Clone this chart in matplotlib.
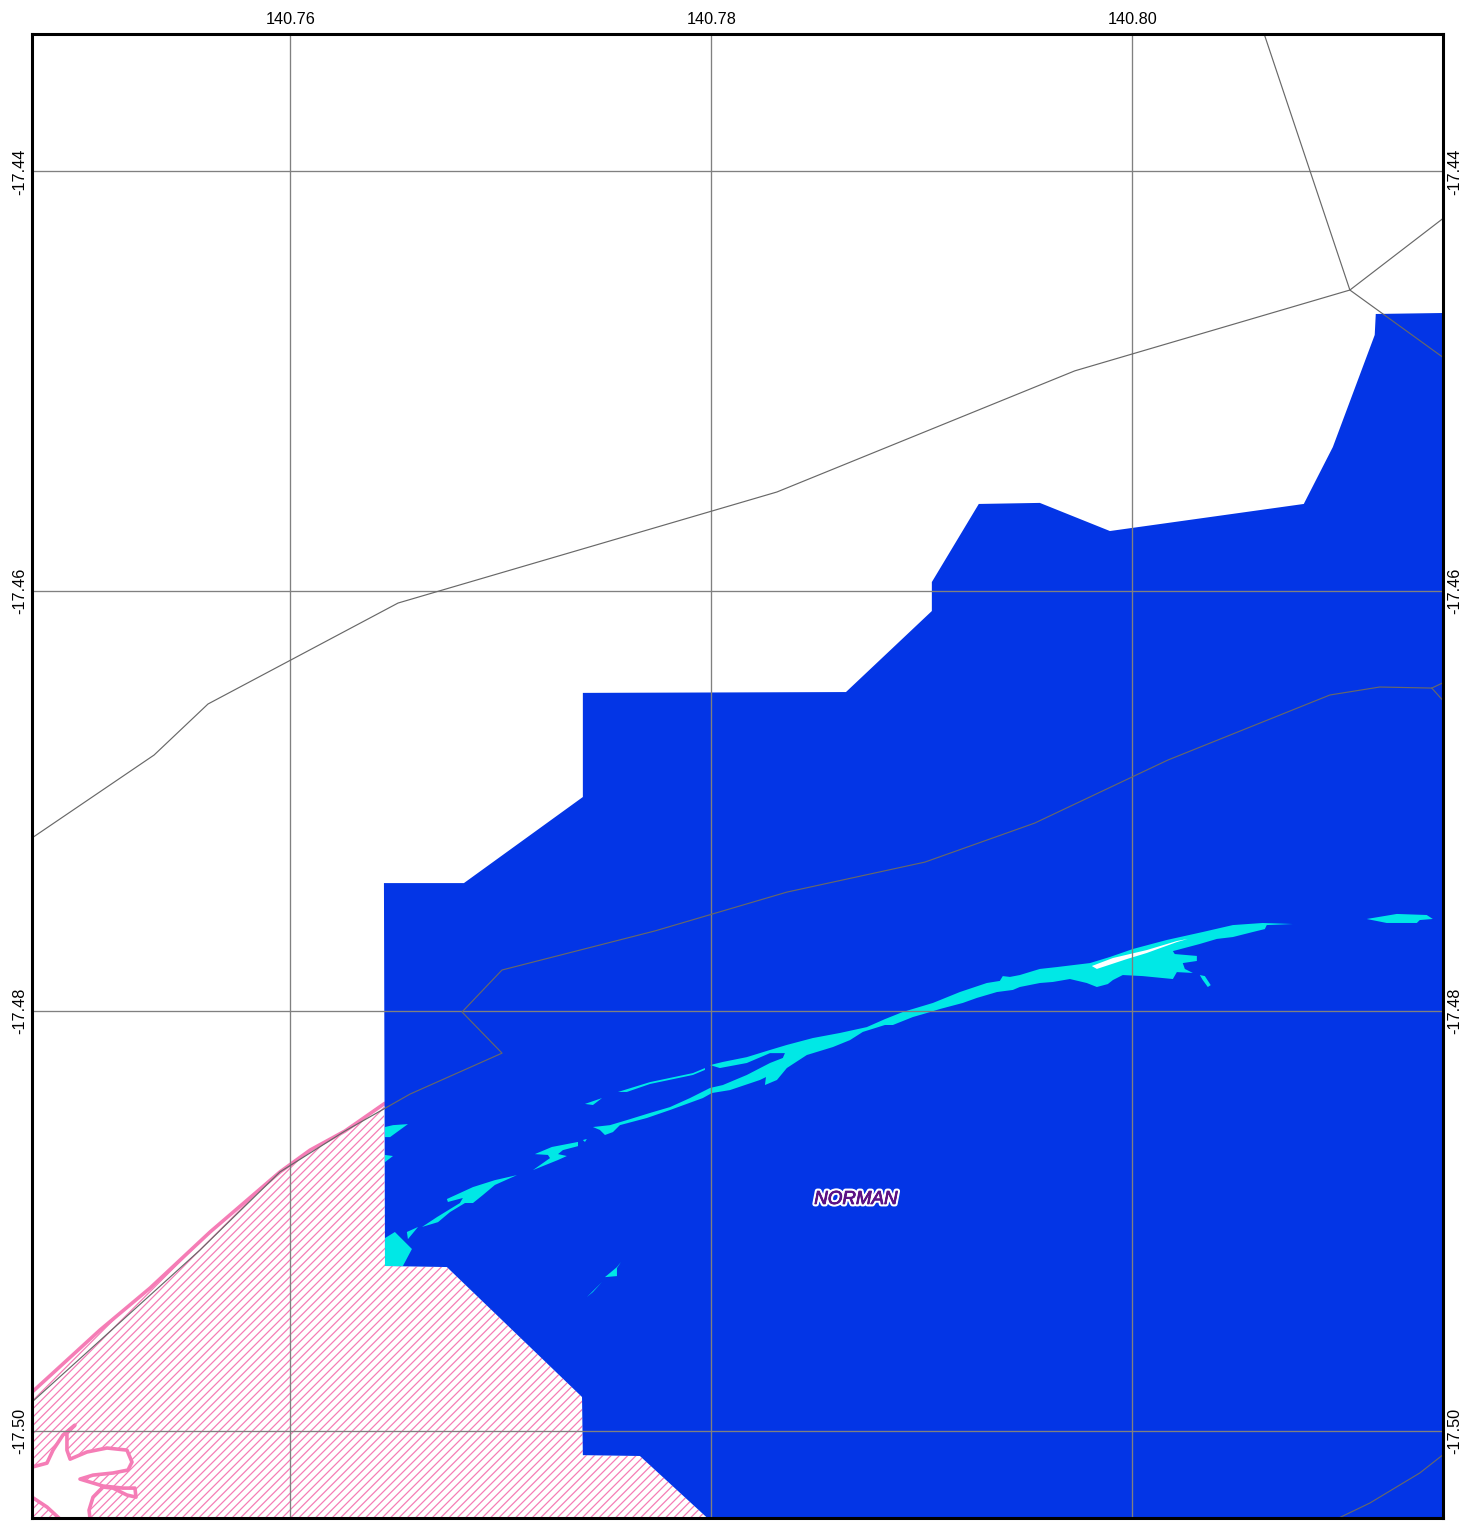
#!/usr/bin/env python3
"""Map panel: NORMAN basin area, polygons and tracks in lon/lat."""

import matplotlib
matplotlib.use("Agg")
import matplotlib.pyplot as plt
import matplotlib.patheffects as pe

plt.rcParams["font.family"] = ["Liberation Sans", "DejaVu Sans"]
plt.rcParams["hatch.linewidth"] = 0.9

# ── axis ranges and ticks ──────────────────────────────
LON_RANGE = (140.74772, 140.81473)
LAT_RANGE = (-17.50412, -17.43343)
lon_ticks = [140.76, 140.78, 140.80]
lon_labels = ["140.76", "140.78", "140.80"]
lat_ticks = [-17.44, -17.46, -17.48, -17.50]
lat_labels = ["-17.44", "-17.46", "-17.48", "-17.50"]

# ── blue unit ──────────────────────────────────────────
blue_lon = [140.76444, 140.76824, 140.77389, 140.77389, 140.78639, 140.79047,
            140.79047, 140.79270, 140.79560, 140.79893, 140.80814, 140.80952,
            140.81151, 140.81156, 140.8150, 140.8150, 140.77978, 140.77660,
            140.77389, 140.77385, 140.76743, 140.76449]
blue_lat = [-17.47390, -17.47390, -17.46980, -17.46484, -17.46480, -17.46094,
            -17.45956, -17.45584, -17.45579, -17.45713, -17.45584, -17.45313,
            -17.44779, -17.44679, -17.44674, -17.50412, -17.50412, -17.50119,
            -17.50115, -17.49838, -17.49219, -17.49214]

# ── pink hatched unit ──────────────────────────────────
coast_lon = [140.74772, 140.75095, 140.75333, 140.75618, 140.75950, 140.76093,
             140.76259, 140.76444]
coast_lat = [-17.49815, -17.49519, -17.49319, -17.49052, -17.48766, -17.48662,
             -17.48571, -17.48442]
pink_lon = coast_lon + [140.76449, 140.76743, 140.77385, 140.77389, 140.77660,
                        140.77978, 140.74772]
pink_lat = coast_lat + [-17.49214, -17.49219, -17.49838, -17.50115, -17.50119,
                        -17.50412, -17.50412]

inlet_lon = [140.74772, 140.74843, 140.74872, 140.74919, 140.74976, 140.74938,
             140.74938, 140.74953, 140.75033, 140.75128, 140.75223, 140.75247,
             140.75228, 140.75157, 140.75062, 140.75000, 140.75109, 140.75204,
             140.75261, 140.75266, 140.75223, 140.75157, 140.75109, 140.75062,
             140.75043, 140.75048, 140.74905, 140.74843, 140.74772]
inlet_lat = [-17.50172, -17.50153, -17.50091, -17.50019, -17.49972, -17.50010,
             -17.50091, -17.50134, -17.50100, -17.50081, -17.50091, -17.50148,
             -17.50186, -17.50200, -17.50210, -17.50229, -17.50262, -17.50272,
             -17.50272, -17.50315, -17.50305, -17.50272, -17.50267, -17.50315,
             -17.50377, -17.50419, -17.50419, -17.50362, -17.50315]

# ── cyan streaks ───────────────────────────────────────
main_lon = [140.79384, 140.79418, 140.79465, 140.79560, 140.79641, 140.79798,
            140.79893, 140.80002, 140.80163, 140.80334, 140.80477, 140.80619,
            140.80762, 140.80638, 140.80629, 140.80572, 140.80477, 140.80401,
            140.80320, 140.80192, 140.80201, 140.80306, 140.80306, 140.80239,
            140.80249, 140.80287, 140.80211, 140.80192, 140.80049, 140.79954,
            140.79907, 140.79883, 140.79831, 140.79783, 140.79703, 140.79622,
            140.79560, 140.79465, 140.79432, 140.79356, 140.79261, 140.79194,
            140.79085, 140.79023, 140.78957, 140.78862, 140.78824, 140.78719,
            140.78658, 140.78577, 140.78453, 140.78358, 140.78311, 140.78254,
            140.78259, 140.78230, 140.78088, 140.78002, 140.77959, 140.77803,
            140.77693, 140.77565, 140.77532, 140.77494, 140.77470, 140.77437,
            140.77518, 140.77598, 140.77708, 140.77803, 140.77898, 140.77993,
            140.78054, 140.78168, 140.78278, 140.78339, 140.78349, 140.78278,
            140.78168, 140.78040, 140.77993, 140.78054, 140.78168, 140.78278,
            140.78358, 140.78482, 140.78610, 140.78738, 140.78824, 140.78909,
            140.79052, 140.79180, 140.79308, 140.79370]
main_lat = [-17.47833, -17.47837, -17.47828, -17.47799, -17.47790, -17.47771,
            -17.47742, -17.47704, -17.47661, -17.47623, -17.47590, -17.47580,
            -17.47585, -17.47590, -17.47609, -17.47623, -17.47647, -17.47656,
            -17.47680, -17.47714, -17.47728, -17.47737, -17.47761, -17.47771,
            -17.47799, -17.47818, -17.47814, -17.47847, -17.47833, -17.47828,
            -17.47852, -17.47871, -17.47885, -17.47866, -17.47847, -17.47861,
            -17.47866, -17.47885, -17.47899, -17.47909, -17.47937, -17.47961,
            -17.47990, -17.48009, -17.48028, -17.48066, -17.48066, -17.48099,
            -17.48138, -17.48171, -17.48209, -17.48271, -17.48328, -17.48352,
            -17.48314, -17.48328, -17.48376, -17.48390, -17.48414, -17.48471,
            -17.48509, -17.48543, -17.48576, -17.48590, -17.48566, -17.48552,
            -17.48543, -17.48519, -17.48485, -17.48457, -17.48414, -17.48366,
            -17.48352, -17.48304, -17.48247, -17.48223, -17.48200, -17.48200,
            -17.48247, -17.48271, -17.48257, -17.48242, -17.48219, -17.48185,
            -17.48161, -17.48128, -17.48104, -17.48076, -17.48038, -17.48004,
            -17.47961, -17.47909, -17.47866, -17.47856]

streaks = [
    ([140.77399, 140.77480, 140.77437], [-17.48442, -17.48414, -17.48447]),
    ([140.77556, 140.77708, 140.77912, 140.77969, 140.77969, 140.77912, 140.77708, 140.77598],
     [-17.48385, -17.48338, -17.48295, -17.48271, -17.48280, -17.48304, -17.48347, -17.48385]),
    ([140.77161, 140.77242, 140.77366, 140.77366, 140.77294, 140.77271, 140.77313, 140.77271,
      140.77152, 140.77233, 140.77223],
     [-17.48681, -17.48647, -17.48623, -17.48643, -17.48662, -17.48681, -17.48690, -17.48709,
      -17.48757, -17.48700, -17.48685]),
    ([140.77389, 140.77408, 140.77399], [-17.48614, -17.48609, -17.48623]),
    ([140.76743, 140.76867, 140.76971, 140.77076, 140.76971, 140.76914, 140.76867, 140.76829,
      140.76758, 140.76701, 140.76625, 140.76696, 140.76805, 140.76819, 140.76748],
     [-17.48895, -17.48838, -17.48805, -17.48781, -17.48828, -17.48876, -17.48914, -17.48914,
      -17.48957, -17.49005, -17.49028, -17.48981, -17.48914, -17.48890, -17.48909]),
    ([140.76553, 140.76606, 140.76558], [-17.49052, -17.49028, -17.49086]),
    ([140.76449, 140.76496, 140.76577, 140.76534, 140.76449],
     [-17.49081, -17.49052, -17.49133, -17.49214, -17.49214]),
    ([140.76449, 140.76487, 140.76558, 140.76473, 140.76449],
     [-17.48552, -17.48543, -17.48538, -17.48600, -17.48600]),
    ([140.76449, 140.76487, 140.76449], [-17.48685, -17.48690, -17.48719]),
    ([140.77408, 140.77480, 140.77437], [-17.49362, -17.49290, -17.49338]),
    ([140.77494, 140.77551, 140.77570, 140.77551, 140.77551],
     [-17.49267, -17.49219, -17.49195, -17.49224, -17.49262]),
    ([140.81113, 140.81256, 140.81398, 140.81427, 140.81365, 140.81351, 140.81208],
     [-17.47561, -17.47537, -17.47542, -17.47561, -17.47566, -17.47580, -17.47580]),
    ([140.80320, 140.80344, 140.80372, 140.80358, 140.80334],
     [-17.47828, -17.47833, -17.47876, -17.47885, -17.47852]),
]

slit_lon = [140.79807, 140.79907, 140.80068, 140.80211, 140.80263, 140.80211,
            140.80068, 140.79973, 140.79831]
slit_lat = [-17.47785, -17.47747, -17.47709, -17.47666, -17.47656, -17.47671,
            -17.47723, -17.47752, -17.47799]

# ── thin grey tracks ───────────────────────────────────
tracks = [
    ([140.74772, 140.75352, 140.75608, 140.76511, 140.78311, 140.79726, 140.81033, 140.81473],
     [-17.47175, -17.46780, -17.46537, -17.46056, -17.45527, -17.44950, -17.44565, -17.44226]),
    ([140.80624, 140.81033, 140.81473], [-17.43340, -17.44565, -17.44884]),
    ([140.74772, 140.75570, 140.75950, 140.76259, 140.76568, 140.77005, 140.76815, 140.77005,
      140.77731, 140.78358, 140.79014, 140.79536, 140.80168, 140.80938, 140.81175, 140.81422,
      140.81473],
     [-17.49862, -17.49138, -17.48766, -17.48571, -17.48395, -17.48200, -17.48004, -17.47804,
      -17.47618, -17.47433, -17.47290, -17.47104, -17.46804, -17.46494, -17.46456, -17.46461,
      -17.46437]),
    ([140.81422, 140.81473], [-17.46461, -17.46518]),
    ([140.80985, 140.81128, 140.81365, 140.81473], [-17.50412, -17.50343, -17.50200, -17.50115]),
]

PINK = "#f57db6"
BLUE = "#0335e6"
CYAN = "#00e8e6"
GREY = "#686868"

fig = plt.figure(figsize=(14.79, 15.27), dpi=100)
ax = fig.add_axes([32 / 1479, 1 - 1517.5 / 1527, 1410.5 / 1479, 1484 / 1527])

# polygons, back to front
ax.fill(pink_lon, pink_lat, facecolor="white", edgecolor=PINK, hatch="////", linewidth=0, zorder=1.0)
ax.plot(coast_lon, coast_lat, color=PINK, lw=2.6, zorder=1.1)
ax.fill(inlet_lon, inlet_lat, facecolor="white", edgecolor="none", zorder=1.2)
ax.plot(inlet_lon, inlet_lat, color=PINK, lw=2.6, zorder=1.3)
ax.fill(blue_lon, blue_lat, facecolor=BLUE, edgecolor="none", zorder=1.5)
ax.fill(main_lon, main_lat, facecolor=CYAN, edgecolor="none", zorder=1.6)
for s_lon, s_lat in streaks:
    ax.fill(s_lon, s_lat, facecolor=CYAN, edgecolor="none", zorder=1.6)
ax.fill(slit_lon, slit_lat, facecolor="white", edgecolor="none", zorder=1.7)

# grid sits over the polygons
ax.set_axisbelow(False)
ax.grid(True, color="#808080", lw=0.95)

for t_lon, t_lat in tracks:
    ax.plot(t_lon, t_lat, color=GREY, lw=0.85, zorder=3)

ax.text(140.78686, -17.48897, "NORMAN", color="#5b1285", fontsize=13.5, style="italic",
        ha="center", va="center", zorder=4,
        path_effects=[pe.withStroke(linewidth=3.6, foreground="white"),
                      pe.withStroke(linewidth=0.6, foreground="#5b1285")])

ax.set_xlim(*LON_RANGE)
ax.set_ylim(*LAT_RANGE)
ax.set_xticks(lon_ticks, lon_labels)
ax.set_yticks(lat_ticks, lat_labels)
ax.tick_params(axis="x", length=0, top=True, bottom=False, labeltop=True, labelbottom=False,
               pad=5, labelsize=11.7)
ax.tick_params(axis="y", length=0, left=True, right=True, labelleft=True, labelright=True,
               labelsize=11.7)
ax.tick_params(axis="y", which="major", pad=3.5)
for lab in ax.get_yticklabels():
    lab.set_rotation(90)
    lab.set_va("center")

for sp in ax.spines.values():
    sp.set_linewidth(2.2)
    sp.set_zorder(10)

fig.savefig("out.png", dpi=100)
